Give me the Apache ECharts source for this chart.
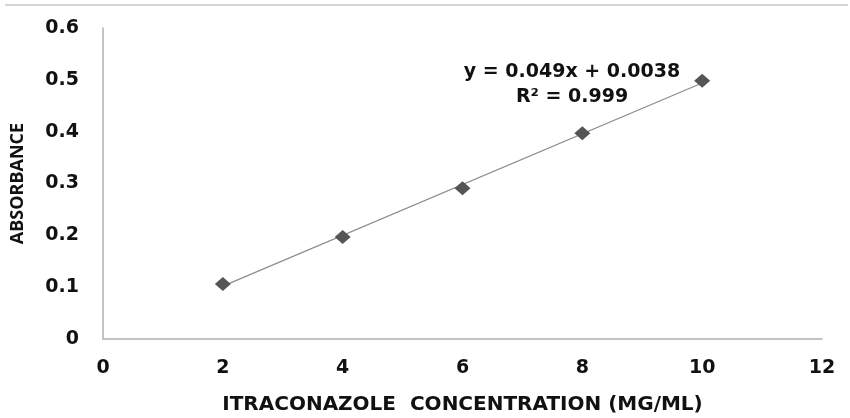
<!DOCTYPE html>
<html>
<head>
<meta charset="utf-8">
<script src="https://cdn.jsdelivr.net/npm/echarts@6/dist/echarts.min.js"></script>
<style>html,body{margin:0;padding:0;background:#fff;}#c{width:850px;height:418px;}</style>
</head>
<body>
<div id="c"></div>
<script>
const concentrations = [2, 4, 6, 8, 10];
const absorbance = [0.106, 0.197, 0.291, 0.397, 0.498];
const trendX = [2, 10];
const trendY = [0.102, 0.494];
const equationText = 'y = 0.049x + 0.0038';
const r2Text = 'R² = 0.999';
const xTitle = 'ITRACONAZOLE  CONCENTRATION (MG/ML)';
const yTitle = 'ABSORBANCE';

const font = '"DejaVu Sans", "Open Sans", sans-serif';
const font2 = '"Open Sans", "DejaVu Sans", sans-serif';
const txt = '#111';
const chart = echarts.init(document.getElementById('c'));
chart.setOption({
  animation: false,
  backgroundColor: '#fff',
  grid: { left: 103, right: 28, top: 28, bottom: 79, containLabel: false, outerBoundsMode: 'none' },
  xAxis: {
    type: 'value', min: 0, max: 12, interval: 2,
    name: xTitle, nameLocation: 'middle', nameGap: 56,
    nameTextStyle: { fontFamily: font, fontWeight: 'bold', fontSize: 20, color: txt },
    axisLine: { show: true, lineStyle: { color: '#b0b0b0', width: 1.5 } },
    axisTick: { show: false },
    splitLine: { show: false },
    axisLabel: { fontFamily: font, fontWeight: 'bold', fontSize: 19, color: txt, margin: 20 }
  },
  yAxis: {
    type: 'value', min: 0, max: 0.6, interval: 0.1,
    name: yTitle, nameLocation: 'middle', nameGap: 76, nameRotate: 90,
    nameTextStyle: { fontFamily: font2, fontWeight: 'bold', fontSize: 18, color: txt },
    axisLine: { show: true, lineStyle: { color: '#b0b0b0', width: 1.5 } },
    axisTick: { show: false },
    splitLine: { show: false },
    axisLabel: { fontFamily: font, fontWeight: 'bold', fontSize: 19, color: txt, margin: 24,
      formatter: v => (Math.round(v * 10) / 10).toString() }
  },
  series: [
    {
      type: 'line',
      data: trendX.map((x, i) => [x, trendY[i]]),
      symbol: 'none',
      lineStyle: { color: '#8c8c8c', width: 1.2 },
      z: 2
    },
    {
      type: 'scatter',
      data: concentrations.map((x, i) => [x, absorbance[i]]),
      symbol: 'diamond',
      symbolSize: [16, 14],
      itemStyle: { color: '#555555', opacity: 1 },
      z: 3
    }
  ],
  graphic: [
    { type: 'line', shape: { x1: 5, y1: 5, x2: 848, y2: 5 }, style: { stroke: '#d6d6d6', lineWidth: 2 } },
    { type: 'text', x: 572, y: 72, style: { text: equationText, textAlign: 'center', textVerticalAlign: 'middle',
      font: 'bold 19px ' + font, fill: txt } },
    { type: 'text', x: 572, y: 97, style: { text: r2Text, textAlign: 'center', textVerticalAlign: 'middle',
      font: 'bold 19px ' + font, fill: txt } }
  ]
});
</script>
</body>
</html>
